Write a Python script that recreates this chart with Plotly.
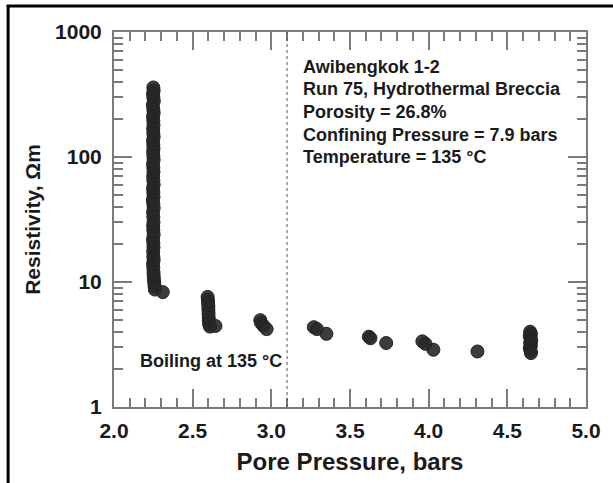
import plotly.graph_objects as go

# ---- data ----
col_x = [2.25, 2.252, 2.248, 2.25, 2.253, 2.247, 2.25, 2.252, 2.248, 2.25,
         2.251, 2.249, 2.25, 2.252, 2.248, 2.25, 2.251, 2.249, 2.25, 2.252,
         2.248, 2.25, 2.251, 2.249, 2.25, 2.252, 2.248, 2.25, 2.251, 2.247,
         2.25, 2.252, 2.248, 2.25, 2.251, 2.249, 2.25, 2.252, 2.248, 2.25,
         2.251, 2.249, 2.25, 2.252, 2.248, 2.25, 2.251, 2.252, 2.254, 2.256,
         2.258, 2.26, 2.31]
col_y = [360, 340, 320, 300, 280, 260, 240, 225, 210, 195,
         180, 168, 155, 145, 135, 125, 117, 110, 102, 95,
         88, 82, 76, 70, 65, 60, 56, 52, 48, 45,
         42, 39, 36, 33, 30, 28, 26, 24, 22, 20.5,
         19, 17.5, 16, 15, 14, 13, 12, 11.2, 10.5, 9.8,
         9.2, 8.7, 8.3]

grp_x = [2.595, 2.597, 2.598, 2.6, 2.6, 2.601, 2.602, 2.603, 2.605, 2.61, 2.645,
         2.93, 2.935, 2.95, 2.97,
         3.27, 3.29, 3.35,
         3.62, 3.63, 3.73,
         3.96, 3.98, 4.03,
         4.31,
         4.645, 4.65, 4.642, 4.648, 4.652, 4.645, 4.65, 4.643, 4.648, 4.65]
grp_y = [7.6, 7.2, 6.8, 6.4, 6.0, 5.6, 5.2, 4.9, 4.6, 4.4, 4.45,
         4.95, 4.7, 4.45, 4.2,
         4.35, 4.2, 3.85,
         3.65, 3.55, 3.25,
         3.35, 3.2, 2.87,
         2.78,
         4.0, 3.85, 3.7, 3.55, 3.4, 3.25, 3.1, 2.95, 2.8, 2.7]

boiling_x = 3.1
x_ticks = [2.0, 2.5, 3.0, 3.5, 4.0, 4.5, 5.0]
y_ticks = [1, 10, 100, 1000]
y_ticktext = ["1", "10", "100", "1000"]
info_lines = ["Awibengkok 1-2",
              "Run 75, Hydrothermal Breccia",
              "Porosity = 26.8%",
              "Confining Pressure = 7.9 bars",
              "Temperature = 135 \u00b0C"]

W, H = 613, 483
L, R, T, B = 114, 22, 32, 75
pw, ph = W - L - R, H - T - B

def px2paper_x(px):
    return (px - L) / pw

def px2paper_y(py):
    return (H - B - py) / ph

FONT = "Liberation Sans, Arial, sans-serif"
AX = "#7a7a7a"
TXT = "#1a1a1a"

fig = go.Figure()
fig.add_trace(go.Scatter(x=col_x + grp_x, y=col_y + grp_y, mode="markers",
                         marker=dict(size=13, color="rgba(40,40,40,0.9)",
                                     line=dict(width=1, color="#222")),
                         showlegend=False, hoverinfo="skip"))

fig.add_shape(type="line", xref="x", yref="paper", x0=boiling_x, x1=boiling_x,
              y0=0, y1=1, line=dict(color="#555", width=1, dash="dot"))

# outer black frame (left and top edges visible)
fig.add_shape(type="line", xref="paper", yref="paper",
              x0=px2paper_x(7), x1=px2paper_x(7), y0=px2paper_y(5), y1=px2paper_y(500),
              line=dict(color="black", width=3))
fig.add_shape(type="line", xref="paper", yref="paper",
              x0=px2paper_x(5.5), x1=px2paper_x(640), y0=px2paper_y(6), y1=px2paper_y(6),
              line=dict(color="black", width=3))

for i, t in enumerate(info_lines):
    fig.add_annotation(x=px2paper_x(303), y=px2paper_y(67 + i * 22.6), xref="paper", yref="paper",
                       text=t, showarrow=False, xanchor="left", yanchor="middle",
                       font=dict(family=FONT, size=18, color=TXT, weight="bold"))

fig.add_annotation(x=px2paper_x(138), y=px2paper_y(362), xref="paper", yref="paper",
                   text="Boiling at 135 \u00b0C", showarrow=False, xanchor="left", yanchor="middle",
                   font=dict(family=FONT, size=18, color=TXT, weight="bold"))

minor_y = [m * d for d in (1, 10, 100) for m in range(2, 10)]

fig.update_xaxes(range=[2, 5], tickvals=x_ticks, ticktext=[f"{v:.1f}" for v in x_ticks],
                 ticks="inside", ticklen=18, tickwidth=1.5, tickcolor=AX,
                 showline=True, linecolor=AX, linewidth=2, mirror="allticks",
                 showgrid=False, zeroline=False, ticklabelstandoff=4,
                 minor=dict(dtick=0.1, tick0=2, ticks="inside", ticklen=9, tickwidth=1.5,
                            tickcolor=AX, showgrid=False),
                 tickfont=dict(family=FONT, size=21, color=TXT, weight="bold"),
                 title=dict(text="Pore Pressure, bars", standoff=12,
                            font=dict(family=FONT, size=24, color=TXT, weight="bold")))
fig.update_yaxes(type="log", range=[0, 3], tickvals=y_ticks, ticktext=y_ticktext,
                 ticks="inside", ticklen=18, tickwidth=1.5, tickcolor=AX,
                 showline=True, linecolor=AX, linewidth=2, mirror="allticks",
                 showgrid=False, zeroline=False, ticklabelstandoff=6,
                 minor=dict(tickvals=minor_y, ticks="inside", ticklen=9, tickwidth=1.5,
                            tickcolor=AX, showgrid=False),
                 tickfont=dict(family=FONT, size=21, color=TXT, weight="bold"),
                 title=dict(text="Resistivity, \u03a9m", standoff=9,
                            font=dict(family=FONT, size=21, color=TXT, weight="bold")))

fig.update_layout(width=W, height=H, margin=dict(l=L, r=R, t=T, b=B),
                  paper_bgcolor="white", plot_bgcolor="white")

fig.write_html("out.html")
